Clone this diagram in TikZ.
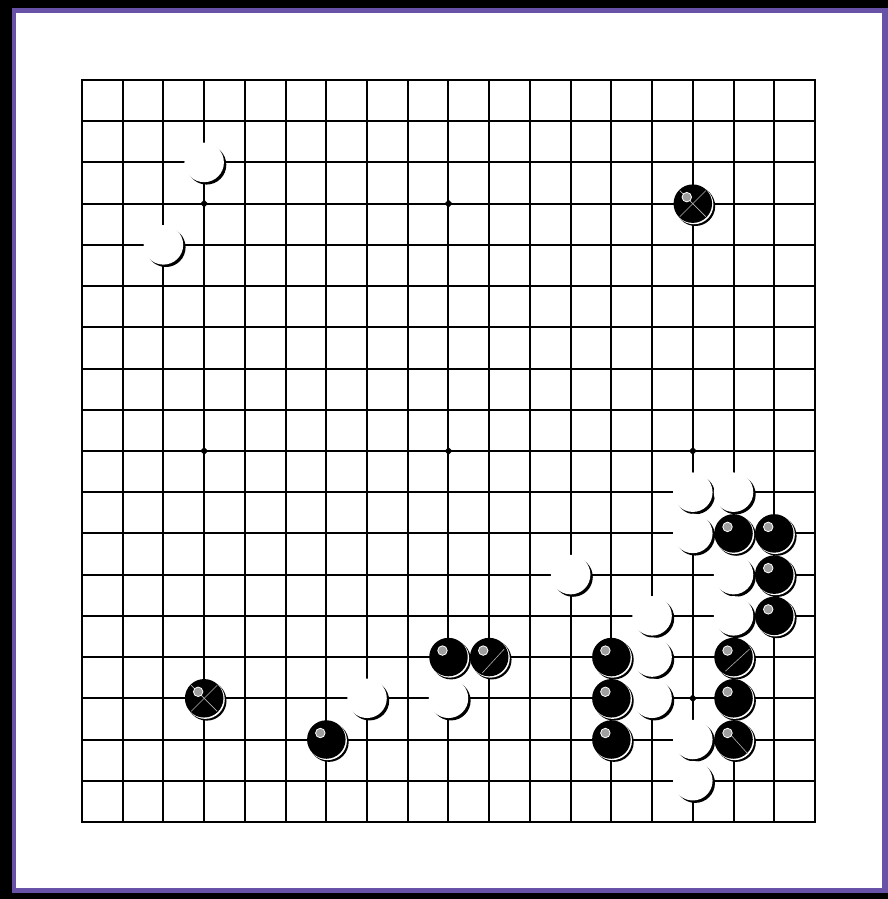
\documentclass[tikz,border=0pt]{standalone}
\usepackage{tikz}
\usepackage{xcolor}
\usetikzlibrary{calc, shapes.geometric}
\definecolor{framepurple}{RGB}{104,82,168}

\begin{document}
\begin{tikzpicture}[x=1pt, y=1pt,
    gridline/.style={line width=2pt, draw=black},
    starpoint/.style={diamond, fill=black, inner sep=0pt, minimum size=8pt},
    whitestone/.style={circle, fill=white, inner sep=0pt, minimum size=39.5pt},
    blackstone/.style={circle, fill=black, inner sep=0pt, minimum size=38.5pt},
    stoneshadow/.style={circle, fill=black, inner sep=0pt, minimum size=39.5pt},
    stonerim/.style={circle, fill=white, inner sep=0pt, minimum size=39pt},
    shine/.style={circle, fill=gray!75, draw=white, line width=0.8pt, inner sep=0pt, minimum size=9.5pt},
    markline/.style={line width=0.6pt, draw=gray!60}
]
    % Frame
    \useasboundingbox (0,0) rectangle (888,899);
    \fill[black] (0,0) rectangle (888,899);
    \fill[framepurple] (12,6) rectangle (888,891);
    \fill[white] (16,11) rectangle (882,886);

    % Board points
    \foreach \i in {0,...,18}
        \foreach \j in {0,...,18}
            \coordinate (p-\i-\j) at ({82+\i*40.72},{819-\j*41.22});

    % Grid
    \foreach \i in {0,...,18} {
        \draw[gridline] (p-\i-0) -- (p-\i-18);
        \draw[gridline] (p-0-\i) -- (p-18-\i);
    }
    \draw[gridline, line width=2.4pt] (p-0-0) rectangle (p-18-18);

    % Star points
    \foreach \i/\j in {3/3,9/3,15/3,3/9,9/9,15/9,3/15,9/15,15/15}
        \node[starpoint] (s-\i-\j) at (p-\i-\j) {};

    % White stones
    \foreach \i/\j in {3/2,2/4,15/10,16/10,15/11,12/12,16/12,14/13,16/13,14/14,7/15,9/15,14/15,15/16,15/17} {
        \node[stoneshadow] at ($(p-\i-\j)+(2.4,-2.4)$) {};
        \node[whitestone] (w-\i-\j) at (p-\i-\j) {};
    }

    % Black stones
    \foreach \i/\j in {15/3,16/11,17/11,17/12,17/13,9/14,10/14,13/14,16/14,3/15,13/15,16/15,6/16,13/16,16/16} {
        \node[stoneshadow] at ($(p-\i-\j)+(2.6,-2.6)$) {};
        \node[stonerim] at ($(p-\i-\j)+(1.1,-1.1)$) {};
        \node[blackstone] (b-\i-\j) at (p-\i-\j) {};
    }

    % Marks on some stones
    \foreach \i/\j in {15/3,3/15} {
        \draw[markline] ($(b-\i-\j)+(-13,13)$) -- ($(b-\i-\j)+(13,-13)$);
        \draw[markline] ($(b-\i-\j)+(-13,-13)$) -- ($(b-\i-\j)+(13,13)$);
    }
    \draw[markline] ($(b-10-14)+(-7,-16)$) -- ($(b-10-14)+(15,8)$);
    \draw[markline] ($(b-16-14)+(-8,-14)$) -- ($(b-16-14)+(16,8)$);
    \draw[markline] ($(b-16-16)+(-4,6)$) -- ($(b-16-16)+(14,-14)$);

    % Highlights
    \foreach \i/\j in {15/3,16/11,17/11,17/12,17/13,9/14,10/14,13/14,16/14,3/15,13/15,16/15,6/16,13/16,16/16}
        \node[shine] (h-\i-\j) at ($(b-\i-\j)+(-6,6.5)$) {};

\end{tikzpicture}
\end{document}
